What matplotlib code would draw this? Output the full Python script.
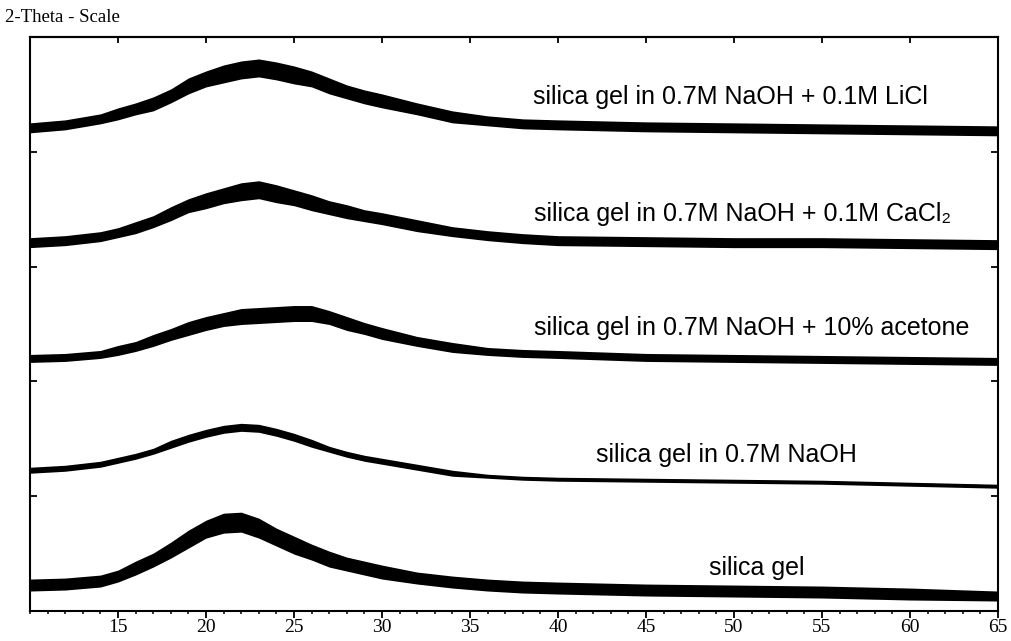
import numpy as np
import matplotlib
matplotlib.use("Agg")
import matplotlib.pyplot as plt
from matplotlib.ticker import MultipleLocator, NullFormatter

# 2-theta grid (deg) where the curves were read
two_theta = np.array([10, 12, 14, 15, 16, 17, 18, 19, 20, 21, 22, 23, 24, 25, 26,
                      27, 28, 29, 30, 32, 34, 36, 38, 40, 45, 50, 55, 60, 65])

# stacked intensities (a.u.), top curve first
licl = np.array([484, 487, 493, 498, 503, 508, 516, 526, 533, 538, 542, 544, 541, 537, 533,
                 526, 520, 515, 511, 503, 495, 491, 488, 487, 485, 484, 483, 482, 481])
cacl2 = np.array([369, 371, 375, 379, 384, 390, 398, 406, 411, 416, 420, 422, 418, 414, 409,
                  404, 400, 396, 393, 386, 380, 376, 373, 371, 370, 369, 369, 368, 367])
acetone = np.array([253, 254, 257, 261, 265, 271, 277, 283, 288, 292, 295, 296, 297, 298, 298,
                    294, 288, 283, 278, 270, 264, 260, 258, 257, 254, 253, 252, 251, 250])
naoh = np.array([141, 143, 147, 151, 155, 160, 167, 173, 178, 182, 184, 183, 179, 174, 168,
                 162, 157, 153, 150, 144, 138, 135, 133, 132, 131, 130, 129, 127, 125])
silica = np.array([26, 27, 30, 35, 43, 51, 61, 72, 82, 88, 89, 83, 74, 66, 59,
                   52, 47, 43, 39, 33, 29, 26, 24, 23, 21, 20, 19, 17, 15])

# half width of the noise band (a.u.)
licl_noise = np.array([5, 5, 5, 6, 6, 7, 7, 8, 8, 9, 9, 9, 9, 9, 8,
                       8, 7, 7, 7, 6, 6, 5, 5, 5, 5, 5, 5, 5, 5])
cacl2_noise = np.array([5, 5, 5, 5, 6, 6, 7, 7, 8, 8, 9, 9, 9, 8, 8,
                        7, 7, 6, 6, 6, 5, 5, 5, 5, 5, 5, 5, 5, 5])
acetone_noise = np.array([4, 4, 4, 5, 5, 6, 6, 7, 7, 7, 8, 8, 8, 8, 8,
                          7, 7, 6, 6, 5, 5, 4, 4, 4, 4, 4, 4, 4, 4])
naoh_noise = np.array([3, 3, 3, 3, 3, 3, 4, 4, 4, 4, 4, 4, 4, 4, 4,
                       3, 3, 3, 3, 3, 3, 2, 2, 2, 2, 2, 2, 2, 2])
silica_noise = np.array([6, 6, 6, 6, 7, 7, 8, 9, 9, 10, 10, 10, 9, 9, 8,
                         8, 7, 7, 7, 6, 6, 6, 6, 6, 6, 6, 6, 6, 5])

labels = ["silica gel in 0.7M NaOH + 0.1M LiCl",
          "silica gel in 0.7M NaOH + 0.1M CaCl\u2082",
          "silica gel in 0.7M NaOH + 10% acetone",
          "silica gel in 0.7M NaOH",
          "silica gel"]

curves = [licl, cacl2, acetone, naoh, silica]
noises = [licl_noise, cacl2_noise, acetone_noise, naoh_noise, silica_noise]
label_pos = [(38.6, 515), (38.65, 398), (38.65, 283), (42.15, 156), (48.6, 43)]

fig = plt.figure(figsize=(10.12, 6.41), dpi=100)
ax = fig.add_axes([30 / 1012, 30 / 641, 968 / 1012, 574 / 641])

for y, h in zip(curves, noises):
    ax.fill_between(two_theta, y - h, y + h, color="black", lw=0)
    ax.plot(two_theta, y, color="black", lw=1.2)

sans = ["Liberation Sans", "DejaVu Sans"]
for (tx, ty), lab in zip(label_pos, labels):
    ax.text(tx, ty, lab, fontsize=18, family=sans, ha="left", va="center")

ax.set_xlim(10, 65)
ax.set_ylim(0, 575)

ax.xaxis.set_minor_locator(MultipleLocator(1))
ax.set_xticks([15, 20, 25, 30, 35, 40, 45, 50, 55, 60, 65])
ax.tick_params(axis="x", which="major", direction="out", length=5, width=1.3,
               labelsize=14, pad=1)
ax.tick_params(axis="x", which="minor", direction="out", length=2.5, width=1.1)
for lab in ax.get_xticklabels():
    lab.set_family("Liberation Serif")

ax.set_yticks([115, 230, 345, 460])
ax.yaxis.set_major_formatter(NullFormatter())
ax.tick_params(axis="y", which="major", direction="in", length=5, width=1.3,
               left=True, right=True)

top = ax.secondary_xaxis("top")
top.set_xticks([15, 20, 25, 30, 35, 40, 45, 50, 55, 60])
top.xaxis.set_major_formatter(NullFormatter())
top.tick_params(direction="in", length=4, width=1.3)
top.spines["top"].set_linewidth(1.5)

for s in ax.spines.values():
    s.set_linewidth(1.5)

fig.text(5 / 1012, 1 - 18 / 641, "2-Theta - Scale", family="Liberation Serif",
         fontsize=13.5, ha="left", va="center")

fig.savefig("out.png", dpi=100)
